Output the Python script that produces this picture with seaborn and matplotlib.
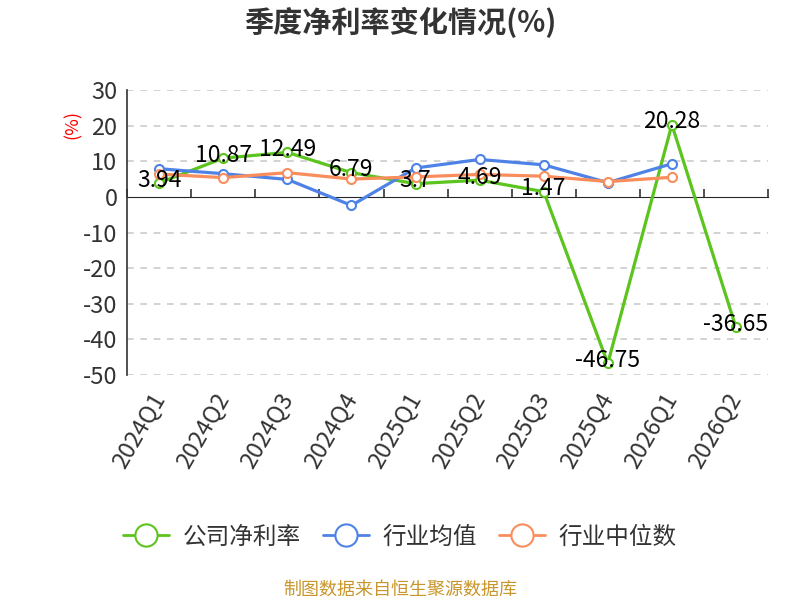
import matplotlib
matplotlib.use('Agg')
import pandas as pd
import matplotlib.pyplot as plt
import seaborn as sns

# quarters and the three series
quarters = ['2024Q1', '2024Q2', '2024Q3', '2024Q4', '2025Q1',
            '2025Q2', '2025Q3', '2025Q4', '2026Q1', '2026Q2']
company = [3.94, 10.87, 12.49, 6.79, 3.7, 4.69, 1.47, -46.75, 20.28, -36.65]
industry_avg = [7.9, 6.5, 4.9, -2.4, 8.1, 10.5, 9.0, 4.0, 9.3, None]
industry_median = [6.4, 5.4, 6.8, 5.0, 5.6, 6.3, 5.8, 4.3, 5.5, None]

series_names = ['公司净利率', '行业均值', '行业中位数']
colors = ['#5cc41e', '#4f82e6', '#fa8d5c']

df = pd.DataFrame({'quarter': quarters,
                   series_names[0]: company,
                   series_names[1]: industry_avg,
                   series_names[2]: industry_median})
df['pos'] = range(len(quarters))
long_df = df.melt(id_vars=['quarter', 'pos'], var_name='series', value_name='value').dropna()

sns.set_style('white')
plt.rcParams['font.family'] = ['Noto Sans CJK SC', 'DejaVu Sans']
plt.rcParams['axes.unicode_minus'] = False

fig = plt.figure(figsize=(8, 6), dpi=100)
ax = fig.add_axes([0.159, 0.375, 0.801, 0.475])

sns.lineplot(data=long_df, x='pos', y='value', hue='series', hue_order=series_names,
             palette=colors, marker='o', markersize=6.5, markerfacecolor='white',
             markeredgewidth=1.5, linewidth=2.3, ax=ax, legend=False)
# marker edge colours follow the series colour
for line, c in zip(ax.get_lines(), colors):
    line.set_markeredgecolor(c)

# data labels for the company series
for x, v in zip(df['pos'], company):
    ax.annotate(f'{v:g}', (x, v), xytext=(0, 2), textcoords='offset points',
                ha='center', va='center', fontsize=16.5, color='black')

ax.set_xlim(-0.5, len(quarters) - 0.5)
ax.set_ylim(-50, 30)
ax.set_yticks(range(-50, 31, 10))
ax.tick_params(axis='y', labelsize=17, colors='#333333', length=5, width=1.2, pad=2)
for t in ax.get_yticklabels():
    t.set_color('#333333')
for y in range(-50, 31, 10):
    if y != 0:
        ax.axhline(y, color='#cccccc', linestyle=(0, (4, 4)), linewidth=1.2, zorder=0)

for s in ['top', 'right', 'bottom']:
    ax.spines[s].set_visible(False)
ax.spines['left'].set_color('#333333')
ax.spines['left'].set_linewidth(1.2)

# category labels at the bottom, no tick marks
ax.set_xticks(df['pos'])
ax.set_xticklabels(quarters, rotation=60, ha='right', va='center',
                   rotation_mode='anchor', fontsize=17, color='#333333')
ax.tick_params(axis='x', length=0, pad=14)
ax.set_xlabel('')
ax.set_ylabel('')

# zero axis line with ticks at category boundaries
zero_ax = ax.secondary_xaxis(50 / 80)
zero_ax.set_xticks([i - 0.5 for i in range(len(quarters) + 1)])
zero_ax.set_xticklabels([])
zero_ax.tick_params(axis='x', direction='out', length=6, width=1.2, colors='#333333')
zero_ax.spines['bottom'].set_color('#333333')
zero_ax.spines['bottom'].set_linewidth(1.2)

fig.text(0.5, 0.962, '季度净利率变化情况(%)', ha='center', va='center',
         fontsize=21, fontweight='bold', color='#333333')
fig.text(0.091, 0.792, '(%)', rotation=90, ha='center', va='center',
         fontsize=13, color='red')

handles = [plt.Line2D([], [], color=c, linewidth=2, marker='o', markersize=16,
                      markerfacecolor='white', markeredgewidth=1.5, markeredgecolor=c)
           for c in colors]
fig.legend(handles, series_names, loc='center', bbox_to_anchor=(0.5, 0.105), ncol=3,
           frameon=False, fontsize=17, handlelength=1.95, columnspacing=0.9,
           handletextpad=0.6, labelcolor='#333333')

fig.text(0.5, 0.018, '制图数据来自恒生聚源数据库', ha='center', va='center',
         fontsize=13, color='#c8962a')

fig.savefig('out.png', dpi=100)
